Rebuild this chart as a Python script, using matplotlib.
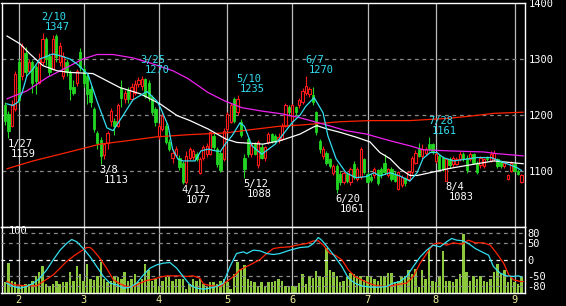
import matplotlib
matplotlib.use('Agg')
import matplotlib.pyplot as plt
import numpy as np

# ---- data: daily prices, trading-day index 0 = Jan 26 ----
month_labels = ['2', '3', '4', '5', '6', '7', '8', '9']
month_start_idx = [4, 23, 45, 65, 84, 106, 126, 149]

opens = [1218,1202,1181,1211,1294,1270,1310,1279,1294,1285,
         1258,1294,1336,1306,1282,1341,1294,1270,1294,1276,
         1250,1258,1312,1282,1270,1246,1211,1168,1155,1128,
         1150,1189,1190,1181,1249,1228,1245,1228,1240,1255,
         1252,1264,1258,1232,1211,1163,1175,1181,1151,1124,
         1128,1124,1115,1080,1124,1125,1130,1097,1124,1130,
         1130,1163,1139,1133,1121,1175,1187,1229,1205,1187,
         1124,1157,1130,1148,1110,1142,1124,1151,1166,1163,
         1157,1157,1181,1215,1190,1214,1217,1223,1240,1237,
         1235,1205,1154,1127,1133,1121,1097,1109,1095,1080,
         1095,1080,1112,1085,1089,1121,1095,1090,1092,1101,
         1104,1115,1092,1104,1092,1068,1075,1087,1086,1098,
         1115,1139,1127,1132,1148,1148,1118,1127,1124,1083,
         1121,1112,1113,1121,1130,1124,1121,1130,1115,1110,
         1109,1124,1118,1121,1121,1118,1109,1086,1100,1112,
         1100,1080]
highs = [1224,1208,1226,1278,1300,1328,1322,1300,1298,1290,
         1310,1347,1340,1310,1342,1345,1330,1312,1300,1280,
         1262,1282,1320,1290,1275,1252,1215,1172,1160,1150,
         1172,1212,1195,1222,1262,1245,1250,1258,1262,1268,
         1270,1266,1262,1235,1214,1185,1205,1185,1158,1140,
         1145,1128,1118,1135,1142,1140,1134,1125,1146,1150,
         1172,1168,1142,1136,1176,1205,1222,1233,1235,1192,
         1130,1160,1150,1152,1155,1148,1145,1170,1168,1166,
         1168,1185,1222,1218,1220,1216,1230,1248,1270,1250,
         1250,1208,1157,1145,1136,1124,1112,1112,1100,1100,
         1098,1108,1118,1108,1142,1124,1098,1094,1108,1104,
         1108,1130,1106,1108,1100,1100,1092,1090,1100,1126,
         1138,1150,1148,1142,1161,1150,1134,1130,1126,1124,
         1125,1126,1125,1135,1134,1128,1134,1133,1118,1127,
         1124,1127,1135,1138,1124,1120,1116,1094,1118,1114,
         1104,1094]
lows = [1182,1159,1178,1208,1222,1262,1270,1275,1240,1237,
        1255,1290,1290,1270,1280,1295,1288,1265,1270,1226,
        1235,1252,1278,1250,1220,1215,1170,1140,1113,1122,
        1140,1180,1165,1178,1215,1222,1222,1225,1235,1250,
        1245,1230,1225,1200,1180,1158,1172,1148,1135,1115,
        1125,1102,1077,1077,1120,1120,1118,1094,1120,1125,
        1128,1138,1108,1098,1118,1172,1185,1185,1200,1160,
        1088,1125,1125,1128,1105,1122,1118,1148,1150,1150,
        1150,1155,1178,1198,1185,1200,1212,1220,1236,1232,
        1218,1165,1132,1122,1110,1105,1092,1061,1075,1076,
        1078,1075,1085,1082,1086,1095,1078,1080,1088,1075,
        1088,1095,1090,1082,1080,1066,1072,1074,1083,1095,
        1112,1125,1122,1128,1136,1130,1115,1100,1100,1083,
        1105,1108,1110,1118,1118,1097,1118,1112,1095,1106,
        1106,1118,1116,1118,1106,1105,1106,1084,1098,1098,
        1092,1078]
closes = [1190,1172,1220,1273,1226,1324,1276,1294,1258,1261,
          1300,1336,1300,1276,1336,1303,1324,1306,1276,1246,
          1240,1278,1285,1258,1237,1223,1175,1150,1127,1148,
          1168,1207,1181,1218,1231,1240,1228,1250,1255,1262,
          1264,1234,1232,1205,1187,1181,1199,1151,1139,1133,
          1140,1107,1080,1127,1139,1136,1121,1121,1142,1145,
          1169,1142,1112,1101,1172,1202,1217,1190,1228,1165,
          1104,1130,1148,1131,1151,1124,1142,1166,1154,1154,
          1160,1181,1217,1205,1217,1205,1226,1243,1252,1246,
          1223,1169,1139,1139,1115,1109,1109,1068,1080,1097,
          1082,1104,1089,1104,1139,1098,1080,1084,1104,1078,
          1092,1098,1104,1086,1083,1098,1089,1078,1098,1124,
          1133,1127,1139,1139,1139,1136,1130,1104,1104,1121,
          1110,1124,1121,1130,1121,1102,1130,1115,1098,1124,
          1121,1121,1130,1133,1109,1109,1115,1092,1115,1100,
          1095,1092]
volume = [18,48,20,18,12,12,15,15,20,28, 34,43,15,12,15,20,15,18,18,34,
          20,43,31,20,47,23,21,28,50,23, 18,20,28,26,23,34,20,23,31,18,
          23,46,37,20,23,12,20,26,28,20, 23,23,23,7,15,23,20,23,15,10,
          18,18,15,20,23,18,7,31,50,39, 45,23,20,18,10,18,12,18,18,20,
          23,
          20,12,10,11,12,16,31,15,27,25, 35,27,26,72,37,34,28,18,20,26,
          32,31,28,28,21,27,26,23,20,28, 28,32,33,18,20,26,28,37,31,39,
          10,37,23,71,20,18,28,67,20,20, 18,23,31,96,34,20,28,23,28,20,
          18,23,34,47,31,37,18,28,18,15, 26]

# moving averages (index, value)
ma_short_idx = [0.5, 2.3, 3.8, 5, 6.4, 8.2, 10.2, 14, 16, 19, 21.3, 24.3, 26.9, 29.8, 31.6,
                34.5, 37.4, 41.5, 44.4, 45.6, 47.7, 49, 50.6, 52, 55.6, 57.3, 59.4, 61.5, 63,
                64.6, 66.4, 68.7, 70, 72.2, 75.1, 79, 81, 83.9, 86.3, 88, 90.4, 93, 94.4, 96.8,
                99.7, 102.6, 105.6, 107.9, 109.6, 112.6, 115.5, 118.4, 120.5, 122.2, 124.3,
                126.3, 128.1, 131.3, 138, 142.1, 145.9, 149.7, 151]
ma_short_val = [1220, 1217, 1223, 1240, 1270, 1282, 1300, 1309, 1306, 1300, 1290, 1272, 1225,
                1177, 1172, 1199, 1227, 1242, 1225, 1211, 1181, 1139, 1121, 1118, 1118, 1136,
                1139, 1136, 1135, 1150, 1163, 1186, 1180, 1145, 1130, 1148, 1163, 1186, 1200,
                1216, 1231, 1204, 1163, 1122, 1097, 1088, 1090, 1097, 1091, 1097, 1091, 1082,
                1097, 1122, 1133, 1133, 1124, 1118, 1124, 1124, 1115, 1106, 1101]
ma_mid_idx = [0.6, 4.4, 7.3, 11.1, 15.2, 19, 25.7, 29.8, 33.6, 39.5, 45.3, 50.3, 54.1, 59.4,
              64.6, 67.8, 75.4, 80.4, 86.3, 90, 91.2, 94.2, 98, 102.9, 106.7, 109.6, 112.6,
              115.5, 118.4, 120.5, 124.3, 129.5, 131.3, 138, 143, 148, 151.5]
ma_mid_val = [1341, 1327, 1309, 1288, 1279, 1276, 1274, 1261, 1249, 1238, 1220, 1199, 1190,
              1175, 1157, 1151, 1148, 1154, 1166, 1178, 1181, 1175, 1169, 1160, 1152, 1133,
              1122, 1104, 1092, 1092, 1097, 1104, 1106, 1113, 1118, 1115, 1113]
ma_long_idx = [0.6, 6.4, 12.3, 18.1, 22.8, 26.9, 31.6, 37.4, 42.4, 49.1, 53.5, 59.4, 64.3,
               69.3, 75.1, 81, 86.3, 94.7, 99.7, 105.6, 112.6, 118.4, 122.2, 129.5, 140,
               143.9, 151.5]
ma_long_val = [1229, 1243, 1267, 1285, 1300, 1308, 1308, 1302, 1293, 1279, 1265, 1240, 1225,
               1213, 1207, 1202, 1195, 1181, 1172, 1166, 1154, 1145, 1138, 1136, 1134, 1131, 1127]
ma_vlong_idx = [0.6, 8.2, 18.1, 27.8, 35.7, 44.4, 54.1, 64.6, 70.8, 80.4, 86.3, 98, 106.7,
                118.4, 129.5, 136, 143, 151.5]
ma_vlong_val = [1104, 1118, 1133, 1148, 1154, 1161, 1165, 1168, 1173, 1180, 1182, 1188, 1190,
                1190, 1194, 1198, 1203, 1205]

# oscillators (lower panel)
osc1_idx = [0.5, 2.5, 4.4, 6.3, 8.3, 10.2, 12.2, 14.1, 16.1, 18, 19.5, 21, 22.9, 24.9, 26.8,
            28.8, 30.7, 32.7, 34.6, 36.6, 38.5, 40.5, 42.4, 44.4, 46.3, 48.2, 50.2, 52.1, 54.1,
            56, 58, 59.9, 61.9, 63.8, 65.8, 67.7, 69.7, 70.7, 72.6, 74.6, 76.5, 78.5, 80.4,
            83.3, 86.3, 88.7, 90.2, 91.6, 92.6, 94.6, 96.5, 98.5, 100.4, 102.3, 104.3, 106.7,
            109.7, 111.6, 113.5, 115.5, 117.4, 119.4, 121.4, 123.3, 125.2, 127.2, 129.1,
            130.6, 132.1, 134, 135.5, 137.5, 139.4, 141.4, 142.8, 144.8, 146.7, 148.7, 150.1, 151]
osc1_val = [-71, -81, -86, -81, -71, -56, -31, -1, 28, 48, 60, 53, 33, 8, -21, -51, -71, -76,
            -86, -83, -71, -46, -26, -16, -11, -9, -26, -51, -76, -86, -89, -86, -81, -71, -21,
            18, 23, 18, 28, 26, 18, 15, 18, 28, 36, 38, 48, 66, 58, 33, 8, -21, -56, -71, -79,
            -83, -83, -81, -71, -66, -51, -21, 8, 28, 43, 38, 53, 63, 58, 56, 48, 33, 23, 13,
            -21, -41, -49, -51, -49, -53]
osc2_idx = [0.5, 2.5, 6.3, 9.3, 11.2, 14.1, 16.1, 18, 20, 21.9, 23.9, 24.9, 25.8, 27.8, 29.7,
            31.7, 33.6, 35.6, 37.5, 39.5, 41.4, 43.4, 45.3, 47.3, 49.2, 51.2, 53.1, 55, 57, 58,
            59.9, 62.9, 64.8, 66.8, 68.7, 70.7, 72.6, 74.6, 76.5, 78.5, 80.4, 83.3, 85.3, 88.2,
            90.2, 91.6, 93.1, 95, 96.5, 98.5, 100.4, 102.3, 104.3, 106.3, 108.7, 111.6, 114.5,
            117.4, 119.4, 121.4, 123.3, 125.2, 127.2, 129.1, 131.1, 133.6, 135.5, 137.5, 139.9,
            141.9, 143.8, 145.8, 147.3, 148.7, 150.7, 151.5]
osc2_val = [-66, -76, -79, -79, -66, -46, -26, -6, 10, 23, 36, 36, 28, 3, -26, -61, -73, -81,
            -81, -71, -63, -59, -53, -49, -49, -49, -51, -49, -56, -73, -78, -81, -66, -51, -31,
            -21, -11, 0, 18, 33, 36, 38, 43, 48, 56, 56, 43, 18, 13, -1, -31, -51, -61, -71,
            -79, -81, -76, -71, -51, -11, 18, 46, 50, 43, 50, 46, 58, 50, 50, 43, 18, -11, -46,
            -61, -66, -66]

# annotated extremes
label_idx = [1, 11, 28, 40, 52, 68, 70, 88, 97, 124, 129]
label_date = ['1/27', '2/10', '3/8', '3/25', '4/12', '5/10', '5/12', '6/7', '6/20', '7/28', '8/4']
label_kind = ['low', 'high', 'low', 'high', 'low', 'high', 'low', 'high', 'low', 'high', 'low']

price_ticks = [1100, 1200, 1300, 1400]
osc_ticks = [80, 50, 0, -50, -80]
osc_tick_labels = ['80', '50', '0', '-50', '-80']

# ---- styling ----
BG = 'black'
UP = '#ff1a1a'
DOWN = '#22d622'
CYAN = '#33dff0'
MAG = '#ee22ee'
REDMA = '#ff2200'
VOLC = '#8cc83c'
GRIDV = '#bdbdbd'
GRIDH = '#8a8a8a'
MONTHC = '#eeee99'
MONO = 'DejaVu Sans Mono'
FS = 7.5

W, H = 566, 306
fig = plt.figure(figsize=(W / 100, H / 100), dpi=100, facecolor=BG)


def box(l, t, r, b):
    return [l / W, 1 - b / H, (r - l) / W, (b - t) / H]


X0, DX = 5.0, 3.42
L_PX, R_PX = 1.5, 524.5
xlim = ((L_PX - X0) / DX, (R_PX - X0) / DX)

o = np.array(opens, float)
h = np.array(highs, float)
l = np.array(lows, float)
c = np.array(closes, float)
n = len(c)
x = np.arange(n)

# ---------- main panel ----------
ax = fig.add_axes(box(L_PX, 3, R_PX, 227))
ax.set_facecolor(BG)
ax.set_xlim(*xlim)
ax.set_ylim(1000, 1400)
for m in month_start_idx:
    ax.axvline(m, color=GRIDV, lw=0.9, zorder=1)
for v in price_ticks[:-1]:
    ax.axhline(v, color=GRIDH, lw=0.9, ls=(0, (3, 3)), zorder=1)

up = c >= o
hi = np.maximum(h, np.maximum(o, c))
lo = np.minimum(l, np.minimum(o, c))
ax.vlines(x[up], lo[up], hi[up], color=UP, lw=0.8, zorder=2)
ax.vlines(x[~up], lo[~up], hi[~up], color=DOWN, lw=0.8, zorder=2)
bw = 0.66
body_lo = np.minimum(o, c)
body_h = np.maximum(np.abs(c - o), 1.0)
ax.bar(x[up], body_h[up], bottom=body_lo[up], width=bw, facecolor=BG,
       edgecolor=UP, linewidth=0.8, zorder=3)
ax.bar(x[~up], body_h[~up], bottom=body_lo[~up], width=bw, facecolor=DOWN,
       edgecolor=DOWN, linewidth=0.6, zorder=3)

ax.plot(ma_vlong_idx, ma_vlong_val, color=REDMA, lw=0.9, zorder=4)
ax.plot(ma_long_idx, ma_long_val, color=MAG, lw=0.9, zorder=4)
ax.plot(ma_mid_idx, ma_mid_val, color='white', lw=0.9, zorder=4)
ax.plot(ma_short_idx, ma_short_val, color=CYAN, lw=0.9, zorder=5)

for i, d, k in zip(label_idx, label_date, label_kind):
    if k == 'high':
        val = highs[i]
        ax.annotate(str(val), xy=(i, val), xytext=(2.5, 1), textcoords='offset pixels',
                    ha='left', va='bottom', color=CYAN, fontsize=FS, family=MONO, zorder=6)
        ax.annotate(d, xy=(i, val), xytext=(-1, 11), textcoords='offset pixels',
                    ha='left', va='bottom', color=CYAN, fontsize=FS, family=MONO, zorder=6)
    else:
        val = lows[i]
        ax.annotate(d, xy=(i, val), xytext=(-1, -1), textcoords='offset pixels',
                    ha='left', va='top', color='white', fontsize=FS, family=MONO, zorder=6)
        ax.annotate(str(val), xy=(i, val), xytext=(2.5, -11), textcoords='offset pixels',
                    ha='left', va='top', color='white', fontsize=FS, family=MONO, zorder=6)

ax.set_xticks([])
ax.yaxis.tick_right()
ax.set_yticks(price_ticks)
ax.set_yticklabels([str(t) for t in price_ticks], family=MONO, fontsize=FS, color='white')
ax.tick_params(axis='y', length=0, pad=3)
for s in ax.spines.values():
    s.set_color('white')
    s.set_linewidth(1)

# ---------- lower panel ----------
axv = fig.add_axes(box(L_PX, 227, R_PX, 293))
axv.set_facecolor(BG)
axv.set_xlim(*xlim)
axv.set_ylim(0, 106.5)
for m in month_start_idx:
    axv.axvline(m, color=GRIDV, lw=0.9, zorder=1)
axv.bar(x, volume, width=0.72, color=VOLC, linewidth=0, zorder=2)
axv.text(0.0143, 100, '100', transform=axv.get_yaxis_transform(), ha='left', va='center',
         color='white', fontsize=FS, family=MONO, zorder=6)
axv.set_yticks([])
axv.set_xticks(month_start_idx)
axv.set_xticklabels(month_labels, family=MONO, fontsize=FS, color=MONTHC)
axv.tick_params(axis='x', length=0, pad=1.5)
for s in axv.spines.values():
    s.set_color('white')
    s.set_linewidth(1)

axl = axv.twinx()
axl.set_xlim(*xlim)
axl.set_ylim(-100.5, 97.5)
for v in osc_ticks:
    axl.axhline(v, color=('white' if v == 0 else GRIDH), lw=0.9, ls=(0, (3, 3)), zorder=1)
axl.plot(osc2_idx, osc2_val, color=REDMA, lw=0.9, zorder=3)
axl.plot(osc1_idx, osc1_val, color=CYAN, lw=0.9, zorder=4)
axl.set_yticks(osc_ticks)
axl.set_yticklabels(osc_tick_labels, family=MONO, fontsize=FS, color='white')
axl.tick_params(axis='y', length=0, pad=2)
for s in axl.spines.values():
    s.set_visible(False)

fig.savefig('out.png', dpi=100, facecolor=BG)
